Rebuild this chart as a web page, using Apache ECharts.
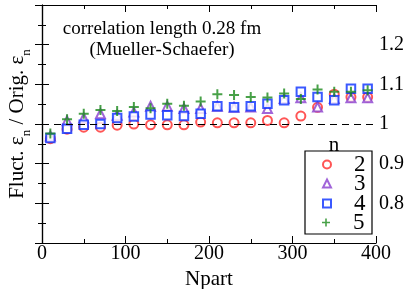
<!DOCTYPE html>
<html><head><meta charset="utf-8">
<script src="https://cdn.jsdelivr.net/npm/echarts@6/dist/echarts.min.js"></script>
<style>html,body{margin:0;padding:0;background:#fff}#c{width:415px;height:289px}</style>
</head><body><div id="c"></div>
<script>
var npart = [10,30,50,70,90,110,130,150,170,190,210,230,250,270,290,310,330,350,370,390];
var n2 = [0.963,0.987,0.992,0.992,0.997,1.000,0.998,0.998,0.998,1.005,1.003,1.003,1.003,1.009,1.003,1.020,1.042,1.075,1.068,1.068];
var n3 = [0.970,1.008,1.015,1.026,1.022,1.030,1.045,1.045,1.039,1.039,1.045,1.042,1.043,1.039,1.064,1.066,1.043,1.064,1.066,1.066];
var n4 = [0.965,0.988,0.998,1.000,1.015,1.019,1.024,1.022,1.020,1.026,1.045,1.042,1.045,1.051,1.060,1.081,1.068,1.060,1.089,1.089];
var n5 = [0.976,1.012,1.026,1.035,1.033,1.043,1.040,1.051,1.046,1.057,1.075,1.073,1.068,1.067,1.077,1.063,1.087,1.081,1.081,1.085];
var seriesNames = ['2','3','4','5'];
var yTickLabels = ['0.8','0.9','1','1.1','1.2'];

function pairs(ys){ return npart.map(function(x,i){ return [x, ys[i]]; }); }
var F = 'Liberation Serif, Times New Roman, serif';
var plus = 'path://M4,0H6V4H10V6H6V10H4V6H0V4H4Z';
var chart = echarts.init(document.getElementById('c'), null, {renderer:'canvas'});
var axisLine = {show:true, lineStyle:{color:'#000', width:1.2}};
var tick = {show:true, inside:true, length:7, lineStyle:{color:'#000'}};
var minor = {show:true, splitNumber:2, length:4, lineStyle:{color:'#000'}};
function mkSeries(name, data, symbol, color, size){
  return {name:name, type:'scatter', data:pairs(data), symbol:symbol, symbolSize:size,
    itemStyle:{color:color, borderColor:color, borderWidth:1.5}, z:3};
}
var s = [
  mkSeries(seriesNames[0], n2, 'emptyCircle', '#ff2a2a', 9),
  mkSeries(seriesNames[1], n3, 'emptyTriangle', '#8a3fd0', 9),
  mkSeries(seriesNames[2], n4, 'emptyRect', '#0a30ff', 8.5),
  mkSeries(seriesNames[3], n5, plus, '#1a8a1a', 10)
];
s[3].itemStyle = {color:'#1a8a1a'};
s[0].markLine = {silent:true, symbol:'none', label:{show:false},
  lineStyle:{color:'#000', type:[7,5], width:1}, data:[{yAxis:1}]};
var legendRows = [164, 183, 203, 222];
var legends = seriesNames.map(function(nm, i){
  return {orient:'vertical', left:322, top:legendRows[i]-11, itemWidth:8, itemHeight:8, itemGap:0, padding:0,
    data:[nm], selectedMode:false,
    textStyle:{color:'#000', fontFamily:F, fontSize:23, lineHeight:22, padding:[0,0,0,18]}};
});
chart.setOption({
  animation:false,
  grid:{left:42, right:39, top:5, bottom:46, outerBoundsMode:'none', containLabel:false},
  xAxis:[
    {type:'value', min:0, max:400, interval:100, position:'bottom',
     axisLine:axisLine, axisTick:tick, minorTick:minor, splitLine:{show:false},
     axisLabel:{color:'#000', fontFamily:F, fontSize:20, margin:1},
     name:'Npart', nameLocation:'middle', nameGap:15,
     nameTextStyle:{color:'#000', fontFamily:F, fontSize:21}},
    {type:'value', min:0, max:400, interval:100, position:'top',
     axisLine:axisLine, axisTick:tick, minorTick:minor, splitLine:{show:false},
     axisLabel:{show:false}}
  ],
  yAxis:[
    {type:'value', min:0.7, max:1.3, interval:0.1, position:'left',
     axisLine:axisLine, axisTick:tick, minorTick:minor, splitLine:{show:false},
     axisLabel:{show:false},
     name:'{a|Fluct. ε}{s|n}{a| / Orig. ε}{s|n}', nameLocation:'middle', nameGap:14, nameRotate:90,
     nameTextStyle:{rich:{a:{color:'#000', fontFamily:F, fontSize:21, verticalAlign:'bottom'},
       s:{color:'#000', fontFamily:F, fontSize:13, verticalAlign:'bottom', padding:[0,0,-5,0]}}}},
    {type:'value', min:0.7, max:1.3, interval:0.1, position:'right',
     axisLine:axisLine, axisTick:tick, minorTick:minor, splitLine:{show:false},
     axisLabel:{color:'#000', fontFamily:F, fontSize:20, margin:3,
       formatter:function(v){ var t = String(Math.round(v*10)/10); return yTickLabels.indexOf(t)>=0 ? t : ''; }}}
  ],
  legend:legends,
  graphic:[
    {type:'rect', shape:{x:305, y:151, width:67, height:83}, style:{fill:'none', stroke:'#000', lineWidth:1.2}, z:10},
    {type:'text', x:334, y:145, style:{text:'n', fontFamily:F, fontSize:21, fill:'#000', textAlign:'center', textVerticalAlign:'middle'}, z:10},
    {type:'text', x:162, y:40, style:{text:'correlation length 0.28 fm\n(Mueller-Schaefer)', fontFamily:F, fontSize:19, lineHeight:21, fill:'#000', textAlign:'center', textVerticalAlign:'middle'}, z:10}
  ],
  series:s
});
</script></body></html>
